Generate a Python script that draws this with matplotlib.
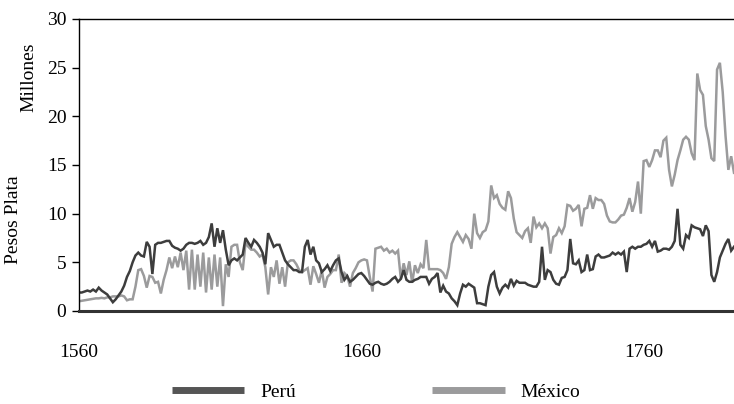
import matplotlib
matplotlib.use("Agg")
import matplotlib.pyplot as plt
from matplotlib.lines import Line2D

# annual series, millions of silver pesos
years = list(range(1560, 1793))

peru = [
    # 1560-1599
    1.9, 1.9, 2.0, 2.1, 2.0, 2.2, 2.0, 2.4, 2.1, 1.9,
    1.7, 1.3, 0.9, 1.2, 1.6, 2.0, 2.6, 3.5, 4.1, 5.0,
    5.7, 6.0, 5.7, 5.6, 7.1, 6.6, 3.8, 6.8, 7.0, 7.0,
    7.1, 7.2, 7.2, 6.7, 6.5, 6.4, 6.2, 6.4, 6.8, 7.0,
    # 1600-1639
    7.0, 6.9, 7.0, 7.2, 6.8, 7.0, 7.6, 9.0, 6.6, 8.5,
    7.0, 8.3, 6.3, 4.7, 5.2, 5.4, 5.2, 5.5, 5.8, 7.5,
    7.0, 6.6, 7.3, 7.0, 6.6, 6.0, 4.8, 8.0, 7.3, 6.6,
    6.8, 6.8, 6.0, 5.2, 4.8, 4.5, 4.2, 4.2, 4.0, 4.0,
    # 1640-1682
    6.6, 7.3, 5.8, 6.6, 5.2, 4.9, 4.0, 4.3, 4.7, 4.1,
    4.7, 5.2, 5.4, 4.0, 3.2, 3.6, 3.0, 3.2, 3.5, 3.8,
    3.9, 3.6, 3.2, 2.8, 2.7, 2.9, 3.0, 2.8, 2.7, 2.8,
    3.0, 3.3, 3.5, 3.0, 3.3, 4.2, 3.2, 3.0, 3.0, 3.2,
    3.3, 3.5, 3.5,
    # 1683-1720
    3.5, 2.8, 3.3, 3.5, 3.9, 1.9, 2.6, 2.0, 1.8, 1.3,
    1.0, 0.6, 1.8, 2.7, 2.5, 2.8, 2.6, 2.4, 0.8, 0.8,
    0.7, 0.6, 2.5, 3.7, 4.0, 2.5, 1.8, 2.4, 2.7, 2.4,
    3.3, 2.6, 3.1, 2.9, 2.9, 2.9, 2.7, 2.6,
    # 1721-1760
    2.5, 2.5, 3.0, 6.6, 3.2, 4.2, 4.0, 3.2, 2.8, 2.7,
    3.4, 3.5, 4.2, 7.4, 4.9, 4.8, 5.2, 4.0, 4.2, 5.8,
    4.2, 4.3, 5.6, 5.8, 5.5, 5.5, 5.6, 5.7, 6.0, 5.8,
    6.0, 5.8, 6.1, 4.0, 6.4, 6.6, 6.4, 6.6, 6.6, 6.8,
    # 1761-1792
    6.9, 7.2, 6.6, 7.2, 6.1, 6.2, 6.4, 6.4, 6.3, 6.6,
    7.2, 10.5, 6.8, 6.4, 7.8, 7.5, 8.8, 8.6, 8.5, 8.4,
    7.7, 8.8, 8.2, 3.7, 3.0, 4.0, 5.5, 6.2, 6.9, 7.4,
    6.2, 6.6,
]

mexico = [
    # 1560-1599
    1.0, 1.05, 1.1, 1.15, 1.2, 1.25, 1.3, 1.3, 1.35, 1.3,
    1.4, 1.4, 1.5, 1.5, 1.5, 1.6, 1.5, 1.1, 1.2, 1.2,
    2.5, 4.2, 4.3, 3.6, 2.4, 3.6, 3.5, 2.9, 3.0, 1.8,
    3.2, 4.2, 5.5, 4.4, 5.6, 4.5, 6.0, 4.2, 6.2, 2.2,
    # 1600-1639
    6.3, 2.2, 5.8, 2.5, 6.0, 1.9, 5.5, 2.2, 5.8, 2.5,
    5.5, 0.5, 4.8, 3.5, 6.6, 6.8, 6.8, 5.0, 4.2, 7.0,
    6.6, 6.3, 6.3, 6.0, 5.6, 5.8, 4.5, 1.7, 4.5, 3.5,
    5.2, 2.8, 4.5, 2.5, 5.0, 5.2, 5.2, 4.8, 4.2, 4.0,
    # 1640-1682
    4.2, 4.4, 2.7, 4.6, 3.8, 2.9, 4.2, 2.4, 3.5, 3.8,
    4.2, 4.2, 5.8, 2.9, 3.9, 3.6, 2.5, 3.9, 4.4, 5.0,
    5.2, 5.3, 5.2, 3.5, 2.0, 6.4, 6.5, 6.6, 6.2, 6.4,
    6.0, 6.2, 5.9, 6.2, 3.3, 4.9, 3.7, 5.1, 2.9, 4.7,
    3.9, 4.8, 4.4,
    # 1683-1720
    7.3, 4.3, 4.3, 4.3, 4.3, 4.2, 3.9, 3.3, 4.5, 6.9,
    7.6, 8.1, 7.6, 7.1, 7.8, 7.4, 6.4, 10.0, 8.0, 7.5,
    8.1, 8.3, 9.2, 12.9, 11.6, 11.9, 11.0, 10.6, 10.4, 12.3,
    11.6, 9.5, 8.1, 7.8, 7.5, 8.2, 8.5, 7.0,
    # 1721-1760
    9.7, 8.6, 9.0, 8.5, 9.0, 8.5, 5.9, 7.6, 7.8, 8.5,
    8.0, 8.7, 10.9, 10.8, 10.3, 10.5, 10.9, 8.7, 10.5, 10.6,
    11.9, 10.5, 11.6, 11.4, 11.4, 11.0, 9.8, 9.2, 9.1, 9.1,
    9.4, 9.8, 9.9, 10.6, 11.6, 10.2, 11.2, 13.3, 10.0, 15.4,
    # 1761-1792
    15.5, 14.8, 15.5, 16.5, 16.5, 15.8, 17.5, 17.8, 14.5, 12.8,
    14.0, 15.5, 16.5, 17.6, 17.9, 17.6, 16.2, 15.5, 24.4, 22.7,
    22.2, 19.0, 17.6, 15.7, 15.4, 24.8, 25.5, 22.5, 18.0, 14.5,
    15.9, 14.2,
]

y_ticks = [0, 5, 10, 15, 20, 25, 30]
x_ticks = [1560, 1660, 1760]
series_names = ["Perú", "México"]

peru_color = "#3d3d3d"
mexico_color = "#9b9b9c"
font_size = 14

plt.rcParams["font.family"] = ["Liberation Serif", "DejaVu Serif"]

fig = plt.figure(figsize=(7.34, 4.04), dpi=100)
ax = fig.add_axes([0.1076, 0.2302, 0.8924, 0.7228])

ax.plot(years, mexico, color=mexico_color, linewidth=1.8, solid_joinstyle="miter")
ax.plot(years, peru, color=peru_color, linewidth=1.8, solid_joinstyle="miter")

ax.set_xlim(1560, 1792)
ax.set_ylim(0, 30)
ax.set_yticks(y_ticks)
ax.set_xticks(x_ticks)
ax.tick_params(axis="y", direction="out", length=5, width=1, labelsize=font_size, pad=4)
ax.tick_params(axis="x", length=0, labelsize=font_size, pad=24)

ax.spines["right"].set_visible(False)
ax.spines["top"].set_linewidth(1.0)
ax.spines["left"].set_linewidth(1.0)
ax.spines["bottom"].set_linewidth(2.2)
ax.spines["bottom"].set_color("#333333")

fig.text(0.040, 0.81, "Millones", rotation=90, ha="center", va="center", fontsize=font_size)
fig.text(0.019, 0.455, "Pesos Plata", rotation=90, ha="center", va="center", fontsize=font_size)

# legend swatches are flat bars, a touch lighter than the data lines
handles = [Line2D([0], [0], color="#555555", linewidth=5, solid_capstyle="butt"),
           Line2D([0], [0], color=mexico_color, linewidth=5, solid_capstyle="butt")]
fig.legend(handles, series_names, loc="center", bbox_to_anchor=(0.512, 0.03),
           ncol=2, frameon=False, fontsize=font_size, handlelength=3.75,
           handletextpad=0.8, columnspacing=7.0, borderpad=0)

fig.savefig("out.png", dpi=100)
